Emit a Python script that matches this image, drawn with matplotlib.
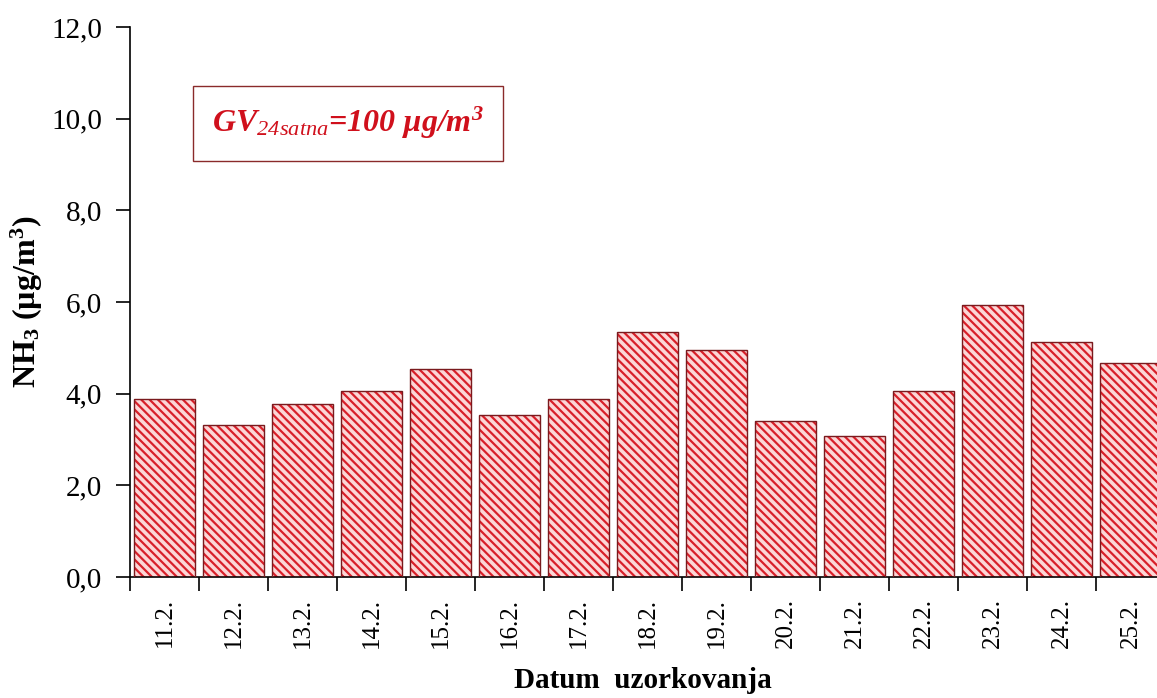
import matplotlib
matplotlib.use('Agg')
import matplotlib.pyplot as plt
import numpy as np

dates = ['11.2.', '12.2.', '13.2.', '14.2.', '15.2.', '16.2.', '17.2.', '18.2.',
         '19.2.', '20.2.', '21.2.', '22.2.', '23.2.', '24.2.', '25.2.']
nh3 = [3.88, 3.32, 3.77, 4.06, 4.54, 3.53, 3.88, 5.35,
       4.95, 3.40, 3.08, 4.06, 5.93, 5.13, 4.67]
y_ticks = [0, 2, 4, 6, 8, 10, 12]

plt.rcParams['font.family'] = ['Liberation Serif', 'DejaVu Serif']
plt.rcParams['mathtext.fontset'] = 'custom'
plt.rcParams['mathtext.rm'] = 'Liberation Serif:italic'
plt.rcParams['mathtext.it'] = 'Liberation Serif:italic'
plt.rcParams['mathtext.bf'] = 'Liberation Serif:bold'
plt.rcParams['mathtext.bfit'] = 'Liberation Serif:italic:bold'
plt.rcParams['hatch.linewidth'] = 1.6

fig = plt.figure(figsize=(11.57, 6.98), dpi=100)
ax = fig.add_axes([130 / 1157, 121 / 698, 1035 / 1157, 550 / 698])

x = np.arange(len(dates))
# hatched fill, then dark outline on top
ax.bar(x, nh3, width=0.87, color='#fcd6d6', edgecolor='#d8202a',
       hatch='\\\\\\\\', linewidth=0, zorder=2)
ax.bar(x, nh3, width=0.87, fill=False, edgecolor='#7a1a1e',
       linewidth=1.0, zorder=3)

ax.set_xlim(-0.5, len(dates) - 0.5)
ax.set_ylim(0, 12)
ax.set_yticks(y_ticks)
ax.set_yticklabels([f'{v:.1f}'.replace('.', ',') for v in y_ticks], fontsize=21)
ax.set_xticks(x)
ax.set_xticklabels(dates, rotation=90, fontsize=18)
ax.set_xticks(np.arange(len(dates) + 1) - 0.5, minor=True)
ax.tick_params(axis='x', which='major', length=0, pad=15)
ax.tick_params(axis='x', which='minor', length=10, width=1.2, direction='out')
ax.tick_params(axis='y', length=10, width=1.2, direction='out', pad=10)

ax.spines['top'].set_visible(False)
ax.spines['right'].set_visible(False)
ax.spines['left'].set_linewidth(1.2)
ax.spines['bottom'].set_linewidth(1.2)

ax.set_ylabel(r'NH$_\mathbf{3}$ (µg/m$^\mathbf{3}$)', fontsize=23, fontweight='bold')
ax.yaxis.set_label_coords(-0.082, 0.5)
ax.set_xlabel('Datum  uzorkovanja', fontsize=21, fontweight='bold')
ax.xaxis.set_label_coords(0.496, -0.163)

ax.text(0.2106, 0.825, r'GV$_{24satna}$=100 µg/m$^{\mathbfit{3}}$',
        transform=ax.transAxes, fontsize=23, fontweight='bold', style='italic',
        color='#d0101c', va='center', ha='center',
        bbox=dict(boxstyle='square,pad=0.6', facecolor='white',
                  edgecolor='#8a2a2a', linewidth=1.0))

fig.savefig('out.png', dpi=100)
